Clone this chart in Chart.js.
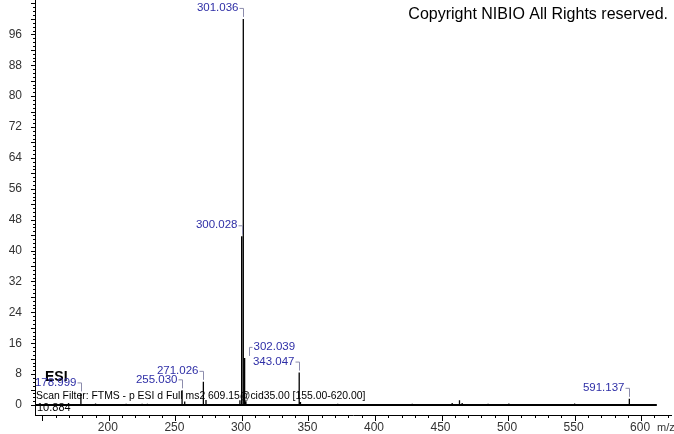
<!DOCTYPE html>
<html>
<head>
<meta charset="utf-8">
<script src="https://cdn.jsdelivr.net/npm/chart.js@4"></script>
<style>
  html, body { margin: 0; padding: 0; background: #fff; }
  #wrap { width: 674px; height: 434px; }
</style>
</head>
<body>
<div id="wrap"><canvas id="spec"></canvas></div>
<script>
// spectre MS2 : m/z et intensités relatives
const peakMz  = [178.999, 190.0, 213.0, 225.0, 229.0, 255.030, 257.0, 271.026, 273.0, 298.5, 299.5,
                 300.028, 301.036, 302.039, 303.0, 343.047, 344.0, 372.0, 428.0, 458.0, 463.5,
                 465.5, 485.0, 500.6, 550.0, 591.137];
const peakInt = [3.0, 0.4, 0.3, 0.3, 0.3, 3.8, 0.9, 6.0, 1.3, 1.2, 0.8,
                 43.7, 100, 12.2, 1.0, 8.4, 0.8, 0.3, 0.3, 0.5, 1.2,
                 0.5, 0.3, 0.4, 0.4, 1.6];
// pics annotés
const labelMz   = [178.999, 255.030, 271.026, 300.028, 301.036, 302.039, 343.047, 591.137];
const labelText = ['178.999', '255.030', '271.026', '300.028', '301.036', '302.039', '343.047', '591.137'];
const labelRight = [302.039];
// ligne de base du spectre
const baseRange = [144.5, 611.8];
// graduations
const xTicks = [200, 250, 300, 350, 400, 450, 500, 550, 600];
const yTicks = [0, 8, 16, 24, 32, 40, 48, 56, 64, 72, 80, 88, 96];

const FONT = "'Liberation Sans', Arial, sans-serif";

// construction des bâtons : (m,0) (m,h) (m,0)
const points = [];
peakMz.forEach((m, i) => {
    points.push({ x: m, y: 0 }, { x: m, y: peakInt[i] }, { x: m, y: 0 });
});
const basePoints = baseRange.map(m => ({ x: m, y: 0 }));

const decorPlugin = {
    id: 'decor',
    beforeDatasetsDraw(chart) {
        const ctx = chart.ctx;
        ctx.save();
        ctx.fillStyle = '#000';
        ctx.textBaseline = 'middle';
        ctx.textAlign = 'left';
        ctx.font = '10.4px ' + FONT;
        ctx.fillText('Scan Filter: FTMS - p ESI d Full ms2 609.15@cid35.00 [155.00-620.00]', 36, 396);
        ctx.font = '11px ' + FONT;
        ctx.fillText('10.884', 37, 408);
        ctx.restore();
    },
    afterDatasetsDraw(chart) {
        const ctx = chart.ctx;
        const xs = chart.scales.x, ys = chart.scales.y;
        const area = chart.chartArea;
        ctx.save();

        // axes
        ctx.strokeStyle = '#000';
        ctx.lineWidth = 1;
        ctx.beginPath();
        ctx.moveTo(area.left + 0.5, area.top);
        ctx.lineTo(area.left + 0.5, area.bottom);
        ctx.moveTo(area.left, area.bottom + 0.5);
        ctx.lineTo(area.right, area.bottom + 0.5);
        // graduations axe Y
        for (let v = 0; v <= 104; v++) {
            const py = Math.round(ys.getPixelForValue(v)) + 0.5;
            const len = v % 4 === 0 ? 4 : 2;
            ctx.moveTo(area.left - len, py);
            ctx.lineTo(area.left, py);
        }
        // graduations axe X
        for (let m = 150; m <= 620; m += 10) {
            const px = Math.round(xs.getPixelForValue(m)) + 0.5;
            const len = m % 50 === 0 ? 6 : 3;
            ctx.moveTo(px, area.bottom);
            ctx.lineTo(px, area.bottom + len);
        }
        ctx.stroke();

        // libellés des axes
        ctx.fillStyle = '#333';
        ctx.font = '12px ' + FONT;
        ctx.textBaseline = 'middle';
        ctx.textAlign = 'right';
        yTicks.forEach(v => ctx.fillText(String(v), area.left - 13, ys.getPixelForValue(v)));
        ctx.textAlign = 'center';
        xTicks.forEach(v => ctx.fillText(String(v), xs.getPixelForValue(v) - 1, 428));
        ctx.textAlign = 'left';
        ctx.font = '11px ' + FONT;
        ctx.fillText('m/z', 657, 428);

        // ESI
        ctx.fillStyle = '#000';
        ctx.font = 'bold 14px ' + FONT;
        ctx.textAlign = 'left';
        ctx.fillText('ESI', 45, 377);

        // étiquettes des pics
        ctx.font = '11.5px ' + FONT;
        labelMz.forEach((m, i) => {
            const idx = peakMz.indexOf(m);
            const px = Math.round(xs.getPixelForValue(m)) + 0.5;
            const top = ys.getPixelForValue(peakInt[idx]);
            const ty = top - 11;
            ctx.strokeStyle = '#8c8cac';
            ctx.beginPath();
            if (labelRight.includes(m)) {
                const bx = px + 4;
                ctx.moveTo(bx + 3, ty + 0.5);
                ctx.lineTo(bx, ty + 0.5);
                ctx.lineTo(bx, top - 2);
                ctx.stroke();
                ctx.fillStyle = '#2e2ea6';
                ctx.textAlign = 'left';
                ctx.fillText(labelText[i], bx + 4, ty);
            } else {
                ctx.moveTo(px - 4, ty + 0.5);
                ctx.lineTo(px, ty + 0.5);
                ctx.lineTo(px, top - 2);
                ctx.stroke();
                ctx.fillStyle = '#2e2ea6';
                ctx.textAlign = 'right';
                ctx.fillText(labelText[i], px - 5, ty);
            }
        });

        // copyright
        ctx.fillStyle = '#000';
        ctx.textAlign = 'right';
        ctx.font = '16px ' + FONT;
        ctx.fillText('Copyright NIBIO All Rights reserved.', 668, 15);
        ctx.restore();
    }
};

new Chart(document.getElementById('spec'), {
    type: 'scatter',
    data: {
        datasets: [{
            data: points,
            showLine: true,
            borderColor: '#000',
            borderWidth: 1.3,
            pointRadius: 0,
            tension: 0
        }, {
            data: basePoints,
            showLine: true,
            borderColor: '#000',
            borderWidth: 2,
            pointRadius: 0
        }]
    },
    options: {
        responsive: true,
        maintainAspectRatio: false,
        animation: false,
        layout: { padding: { left: 0, right: 2, top: 0, bottom: 0 } },
        plugins: {
            legend: { display: false },
            tooltip: { enabled: false }
        },
        scales: {
            x: {
                type: 'linear',
                min: 144.5,
                max: 623.2,
                afterFit: s => { s.height = 19; },
                grid: { display: false },
                border: { display: false },
                ticks: { display: false }
            },
            y: {
                type: 'linear',
                min: -2.59,
                max: 104.9,
                afterFit: s => { s.width = 35; },
                grid: { display: false },
                border: { display: false },
                ticks: { display: false }
            }
        }
    },
    plugins: [decorPlugin]
});
</script>
</body>
</html>
